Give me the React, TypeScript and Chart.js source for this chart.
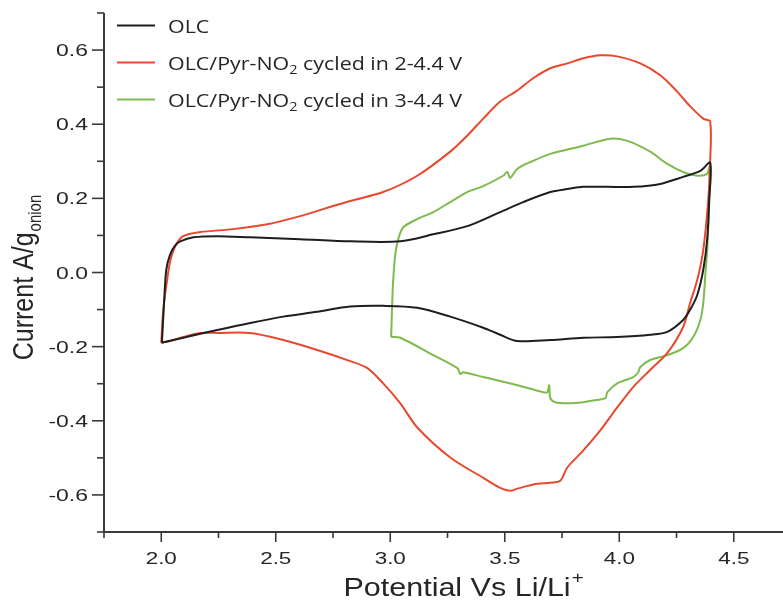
import { useEffect, useRef } from "react";
import { Chart, registerables } from "chart.js";

Chart.register(...registerables);

// ---------- data ----------
const SERIES_NAMES = [
  "OLC",
  "OLC/Pyr-NO₂ cycled in 2-4.4 V",
  "OLC/Pyr-NO₂ cycled in 3-4.4 V",
];
const SERIES_COLORS = ["#1e1e1e", "#e8492e", "#7dbb4f"];

const OLC_V = [2.003, 2.013, 2.022, 2.039, 2.061, 2.083, 2.14, 2.245, 2.389, 2.607, 2.825, 3.044, 3.188, 3.336, 3.48, 3.581, 3.699, 3.773, 3.843, 3.948, 4.061, 4.179, 4.279, 4.354, 4.397, 4.393, 4.384, 4.367, 4.341, 4.31, 4.279, 4.21, 4.135, 3.991, 3.843, 3.699, 3.555, 3.48, 3.406, 3.262, 3.118, 2.969, 2.825, 2.681, 2.533, 2.389, 2.245, 2.096, 2.003];
const OLC_I = [-0.189, -0.073, 0.008, 0.049, 0.073, 0.084, 0.095, 0.098, 0.095, 0.09, 0.084, 0.084, 0.103, 0.125, 0.163, 0.19, 0.217, 0.225, 0.231, 0.231, 0.231, 0.239, 0.258, 0.274, 0.296, 0.198, 0.09, 0.008, -0.06, -0.1, -0.128, -0.16, -0.168, -0.174, -0.176, -0.182, -0.185, -0.168, -0.149, -0.119, -0.095, -0.09, -0.092, -0.106, -0.119, -0.136, -0.155, -0.176, -0.189];

const PYR24_V = [2.0, 2.009, 2.026, 2.039, 2.061, 2.096, 2.17, 2.314, 2.463, 2.607, 2.707, 2.825, 2.969, 3.118, 3.262, 3.336, 3.406, 3.48, 3.555, 3.624, 3.699, 3.773, 3.843, 3.917, 3.991, 4.092, 4.179, 4.253, 4.31, 4.367, 4.397, 4.397, 4.389, 4.367, 4.341, 4.31, 4.279, 4.21, 4.135, 4.061, 3.991, 3.917, 3.843, 3.773, 3.742, 3.699, 3.642, 3.555, 3.524, 3.48, 3.406, 3.262, 3.118, 3.044, 2.969, 2.9, 2.825, 2.681, 2.533, 2.389, 2.245, 2.17, 2.096, 2.026, 2.0];
const PYR24_I = [-0.19, -0.1, -0.019, 0.03, 0.071, 0.098, 0.109, 0.117, 0.13, 0.152, 0.171, 0.193, 0.217, 0.261, 0.326, 0.369, 0.415, 0.461, 0.491, 0.524, 0.551, 0.564, 0.578, 0.586, 0.583, 0.564, 0.532, 0.488, 0.448, 0.415, 0.407, 0.299, 0.198, 0.062, -0.019, -0.081, -0.147, -0.217, -0.263, -0.309, -0.364, -0.426, -0.48, -0.526, -0.562, -0.567, -0.57, -0.583, -0.589, -0.581, -0.554, -0.499, -0.418, -0.353, -0.299, -0.258, -0.239, -0.209, -0.182, -0.163, -0.163, -0.163, -0.174, -0.187, -0.19];

const PYR34_V = [3.004, 3.009, 3.013, 3.022, 3.035, 3.057, 3.118, 3.188, 3.262, 3.336, 3.406, 3.493, 3.511, 3.524, 3.555, 3.624, 3.699, 3.843, 3.961, 4.035, 4.135, 4.21, 4.279, 4.341, 4.384, 4.393, 4.393, 4.384, 4.376, 4.367, 4.354, 4.323, 4.279, 4.21, 4.135, 4.092, 4.083, 4.061, 3.991, 3.948, 3.939, 3.886, 3.843, 3.773, 3.721, 3.699, 3.694, 3.686, 3.668, 3.555, 3.406, 3.319, 3.306, 3.293, 3.188, 3.044, 3.004];
const PYR34_I = [-0.174, -0.073, -0.019, 0.049, 0.09, 0.122, 0.144, 0.163, 0.19, 0.217, 0.233, 0.261, 0.271, 0.255, 0.28, 0.301, 0.32, 0.342, 0.361, 0.355, 0.326, 0.293, 0.271, 0.261, 0.266, 0.285, 0.198, 0.062, -0.005, -0.081, -0.128, -0.174, -0.204, -0.223, -0.236, -0.255, -0.269, -0.282, -0.299, -0.323, -0.339, -0.345, -0.35, -0.353, -0.35, -0.339, -0.304, -0.323, -0.323, -0.304, -0.282, -0.269, -0.274, -0.258, -0.223, -0.176, -0.174];

const X_MAJOR = [2.0, 2.5, 3.0, 3.5, 4.0, 4.5];
const X_MINOR = [1.75, 2.25, 2.75, 3.25, 3.75, 4.25, 4.75];
const Y_MAJOR = [-0.6, -0.4, -0.2, 0.0, 0.2, 0.4, 0.6];
const Y_MINOR = [-0.7, -0.5, -0.3, -0.1, 0.1, 0.3, 0.5, 0.7];

const X_TITLE = "Potential Vs Li/Li";
const X_TITLE_SUP = "+";
const Y_TITLE = "Current A/g";
const Y_TITLE_SUB = "onion";

// ---------- styles ----------
const AXIS_COLOR = "#3a3a3a";
const TEXT_COLOR = "#262626";
const ARIAL = '"Liberation Sans", Arial, sans-serif';
const LEGEND_FONT = '"Open Sans", "Noto Sans", sans-serif';

function toPoints(xs: number[], ys: number[]) {
  return xs.map((x, i) => ({ x, y: ys[i] }));
}

function drawText(
  ctx: CanvasRenderingContext2D,
  text: string,
  x: number,
  y: number,
  size: number,
  sx: number,
  align: "left" | "center" | "right",
  family: string
) {
  ctx.save();
  ctx.font = `${size}px ${family}`;
  const w = ctx.measureText(text).width * sx;
  let x0 = x;
  if (align === "center") x0 = x - w / 2;
  else if (align === "right") x0 = x - w;
  ctx.translate(x0, y);
  ctx.scale(sx, 1);
  ctx.textAlign = "left";
  ctx.textBaseline = "alphabetic";
  ctx.fillText(text, 0, 0);
  ctx.restore();
  return w;
}

function measure(ctx: CanvasRenderingContext2D, text: string, size: number, family: string) {
  ctx.save();
  ctx.font = `${size}px ${family}`;
  const w = ctx.measureText(text).width;
  ctx.restore();
  return w;
}

const decorPlugin = {
  id: "decor",
  afterDraw(chart: any) {
    const ctx: CanvasRenderingContext2D = chart.ctx;
    const xs = chart.scales.x;
    const ys = chart.scales.y;
    const { left, right, top, bottom } = chart.chartArea;
    ctx.save();
    ctx.strokeStyle = AXIS_COLOR;
    ctx.fillStyle = TEXT_COLOR;
    ctx.lineWidth = 2;
    // axis lines
    ctx.beginPath();
    ctx.moveTo(left, top);
    ctx.lineTo(left, bottom);
    ctx.lineTo(right, bottom);
    ctx.stroke();

    // y ticks
    ctx.lineWidth = 1.6;
    for (const v of Y_MAJOR) {
      const py = ys.getPixelForValue(v);
      ctx.beginPath();
      ctx.moveTo(left - 12, py);
      ctx.lineTo(left, py);
      ctx.stroke();
      drawText(ctx, v.toFixed(1), left - 16, py + 6, 17, 1.35, "right", ARIAL);
    }
    for (const v of Y_MINOR) {
      const py = ys.getPixelForValue(v);
      ctx.beginPath();
      ctx.moveTo(left - 7, py);
      ctx.lineTo(left, py);
      ctx.stroke();
    }
    // x ticks
    for (const v of X_MAJOR) {
      const px = xs.getPixelForValue(v);
      ctx.beginPath();
      ctx.moveTo(px, bottom);
      ctx.lineTo(px, bottom + 10);
      ctx.stroke();
      drawText(ctx, v.toFixed(1), px, bottom + 32, 17, 1.32, "center", ARIAL);
    }
    for (const v of X_MINOR) {
      if (v > xs.max) continue;
      const px = xs.getPixelForValue(v);
      ctx.beginPath();
      ctx.moveTo(px, bottom);
      ctx.lineTo(px, bottom + 6);
      ctx.stroke();
    }

    // x title
    const tSize = 25, tSx = 1.22;
    const mainW = measure(ctx, X_TITLE, tSize, ARIAL) * tSx;
    const supW = measure(ctx, X_TITLE_SUP, 17, ARIAL) * 1.2;
    const totalW = mainW + 1 + supW;
    const cx = (left + right) / 2 + 20;
    const x0 = cx - totalW / 2;
    drawText(ctx, X_TITLE, x0, bottom + 64, tSize, tSx, "left", ARIAL);
    drawText(ctx, X_TITLE_SUP, x0 + mainW + 1, bottom + 51, 17, 1.2, "left", ARIAL);

    // y title (rotated)
    const yMainW = measure(ctx, Y_TITLE, 25, ARIAL);
    const ySubW = measure(ctx, Y_TITLE_SUB, 15, ARIAL);
    const yTotal = yMainW + 1 + ySubW;
    const cy = (top + bottom) / 2 + 5;
    ctx.save();
    ctx.translate(33, cy + yTotal / 2);
    ctx.rotate(-Math.PI / 2);
    ctx.scale(1, 1.2);
    ctx.textAlign = "left";
    ctx.textBaseline = "alphabetic";
    ctx.font = `25px ${ARIAL}`;
    ctx.fillText(Y_TITLE, 0, 0);
    ctx.font = `15px ${ARIAL}`;
    ctx.fillText(Y_TITLE_SUB, yMainW + 1, 7);
    ctx.restore();

    // legend
    const lgSize = 18.5;
    const subSize = 12.5;
    const splitName = (name: string) => {
      const parts: { t: string; sub: boolean }[] = [];
      const segs = name.split("₂");
      segs.forEach((s, i) => {
        if (s) parts.push({ t: s, sub: false });
        if (i < segs.length - 1) parts.push({ t: "2", sub: true });
      });
      return parts;
    };
    const natWidth = (name: string) =>
      splitName(name).reduce(
        (acc, p) => acc + measure(ctx, p.t, p.sub ? subSize : lgSize, LEGEND_FONT),
        0
      );
    const lgSx = 294 / natWidth(SERIES_NAMES[1]);
    SERIES_NAMES.forEach((name, i) => {
      const base = 33 + i * 37;
      const ly = base - 7.5;
      ctx.strokeStyle = SERIES_COLORS[i];
      ctx.lineWidth = 2.2;
      ctx.beginPath();
      ctx.moveTo(117, ly);
      ctx.lineTo(155, ly);
      ctx.stroke();
      let x = 168;
      for (const p of splitName(name)) {
        x += drawText(
          ctx,
          p.t,
          x,
          p.sub ? base + 4 : base,
          p.sub ? subSize : lgSize,
          lgSx,
          "left",
          LEGEND_FONT
        );
      }
    });
    ctx.restore();
  },
};

export default function App() {
  const canvasRef = useRef<HTMLCanvasElement | null>(null);

  useEffect(() => {
    const canvas = canvasRef.current;
    if (!canvas) return;
    const series = [
      toPoints(OLC_V, OLC_I),
      toPoints(PYR24_V, PYR24_I),
      toPoints(PYR34_V, PYR34_I),
    ];
    const chart = new Chart(canvas, {
      type: "scatter",
      data: {
        datasets: series.map((pts, i) => ({
          label: SERIES_NAMES[i],
          data: pts,
          showLine: true,
          borderColor: SERIES_COLORS[i],
          backgroundColor: SERIES_COLORS[i],
          borderWidth: 2,
          pointRadius: 0,
          tension: 0.3,
          fill: false,
        })),
      },
      options: {
        animation: false,
        responsive: false,
        devicePixelRatio: 1,
        layout: { padding: { top: 13, left: 0, right: 0, bottom: 0 } },
        plugins: {
          legend: { display: false },
          tooltip: { enabled: false },
          title: { display: false },
        },
        scales: {
          x: {
            type: "linear",
            min: 1.75,
            max: 4.715,
            grid: { display: false, drawTicks: false },
            border: { display: false },
            ticks: { display: false },
            afterFit: (s: any) => {
              s.height = 75;
            },
          },
          y: {
            type: "linear",
            min: -0.7,
            max: 0.7,
            grid: { display: false, drawTicks: false },
            border: { display: false },
            ticks: { display: false },
            afterFit: (s: any) => {
              s.width = 104;
            },
          },
        },
      },
      plugins: [decorPlugin],
    } as any);
    return () => chart.destroy();
  }, []);

  return (
    <div style={{ position: "absolute", left: 0, top: 0, width: 783, height: 607, background: "#fff" }}>
      <canvas ref={canvasRef} width={783} height={607} style={{ display: "block" }} />
    </div>
  );
}
